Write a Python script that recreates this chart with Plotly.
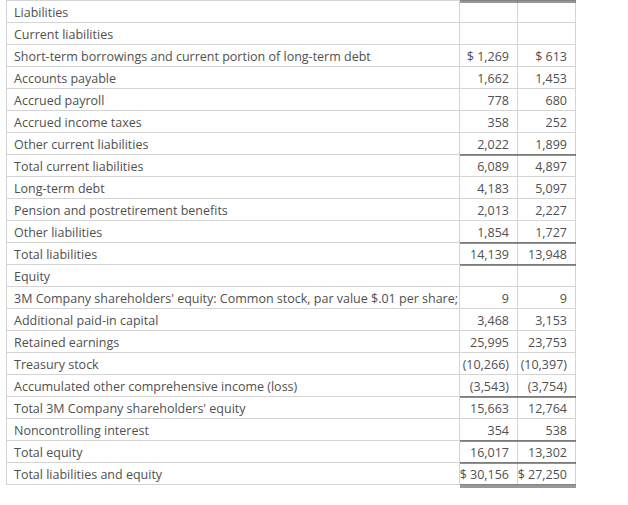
import plotly.graph_objects as go

# Balance sheet rows (liabilities and equity), $ millions
labels = [
    "Liabilities",
    "Current liabilities",
    "Short-term borrowings and current portion of long-term debt",
    "Accounts payable",
    "Accrued payroll",
    "Accrued income taxes",
    "Other current liabilities",
    "Total current liabilities",
    "Long-term debt",
    "Pension and postretirement benefits",
    "Other liabilities",
    "Total liabilities",
    "Equity",
    "3M Company shareholders' equity: Common stock, par value $.01 per share;",
    "Additional paid-in capital",
    "Retained earnings",
    "Treasury stock",
    "Accumulated other comprehensive income (loss)",
    "Total 3M Company shareholders' equity",
    "Noncontrolling interest",
    "Total equity",
    "Total liabilities and equity",
]
year_2018 = [None, None, 1269, 1662, 778, 358, 2022, 6089, 4183, 2013, 1854, 14139,
             None, 9, 3468, 25995, -10266, -3543, 15663, 354, 16017, 30156]
year_2017 = [None, None, 613, 1453, 680, 252, 1899, 4897, 5097, 2227, 1727, 13948,
             None, 9, 3153, 23753, -10397, -3754, 12764, 538, 13302, 27250]
dollar_rows = ["Short-term borrowings and current portion of long-term debt",
               "Total liabilities and equity"]
# rows whose numbers sit under a rule
ruled_above = ["Total current liabilities", "Total liabilities", "Equity",
               "Total 3M Company shareholders' equity", "Total equity",
               "Total liabilities and equity"]

NBSP = "\u00a0"


def fmt(v, label):
    if v is None:
        return ""
    s = f"{abs(v):,}"
    if v < 0:
        s = f"({s})"
    if label in dollar_rows:
        s = "$" + NBSP + s
    return s


col_a = [fmt(v, l) for v, l in zip(year_2018, labels)]
col_b = [fmt(v, l) for v, l in zip(year_2017, labels)]
# keep the long label on one line
cell_labels = [l.replace(" ", NBSP) for l in labels]

W, H = 628, 505
row_h = 22
left, top = 7, 1  # where the grid should start on the page
label_w, num_w = 453, 58
table_w = label_w + 2 * num_w
inner = 1  # plotly draws the grid about this far inside the domain
text_color = "#505050"
grid = "#d4d4d4"
font = dict(family="Open Sans", size=12.5, color=text_color)

fig = go.Figure(
    go.Table(
        domain=dict(x=[(left - inner) / W, (left - inner + table_w) / W],
                    y=[0, 1 - (top - inner) / H]),
        columnwidth=[label_w, num_w, num_w],
        header=dict(
            values=[cell_labels[0], col_a[0], col_b[0]],
            align=["left", "right", "right"],
            height=row_h,
            fill_color="white",
            line=dict(color=grid, width=1),
            font=font,
        ),
        cells=dict(
            values=[cell_labels[1:], col_a[1:], col_b[1:]],
            align=["left", "right", "right"],
            height=row_h,
            fill_color="white",
            line=dict(color=grid, width=1),
            font=font,
        ),
    )
)


def py(pix):
    return 1 - pix / H


x0 = (left + label_w) / W
x1 = (left + table_w) / W
shapes = []
for lab in ruled_above:
    k = labels.index(lab)
    y = top + row_h * k
    shapes.append(dict(type="line", xref="paper", yref="paper",
                       x0=x0, x1=x1, y0=py(y), y1=py(y),
                       line=dict(color="#222222", width=1)))
# double rules at top and bottom of the number columns
bottom = top + row_h * len(labels)
for y in [top - 1, top + 1, bottom, bottom + 2]:
    shapes.append(dict(type="line", xref="paper", yref="paper",
                       x0=x0, x1=x1, y0=py(y), y1=py(y),
                       line=dict(color="#333333", width=1)))

fig.update_layout(
    width=W,
    height=H,
    margin=dict(l=0, r=0, t=0, b=0),
    paper_bgcolor="white",
    shapes=shapes,
)

# the page's default 8px body margin would push the figure off its frame
fig.write_html("out.html", config={"displayModeBar": False},
               post_script="document.body.style.margin='0';")
